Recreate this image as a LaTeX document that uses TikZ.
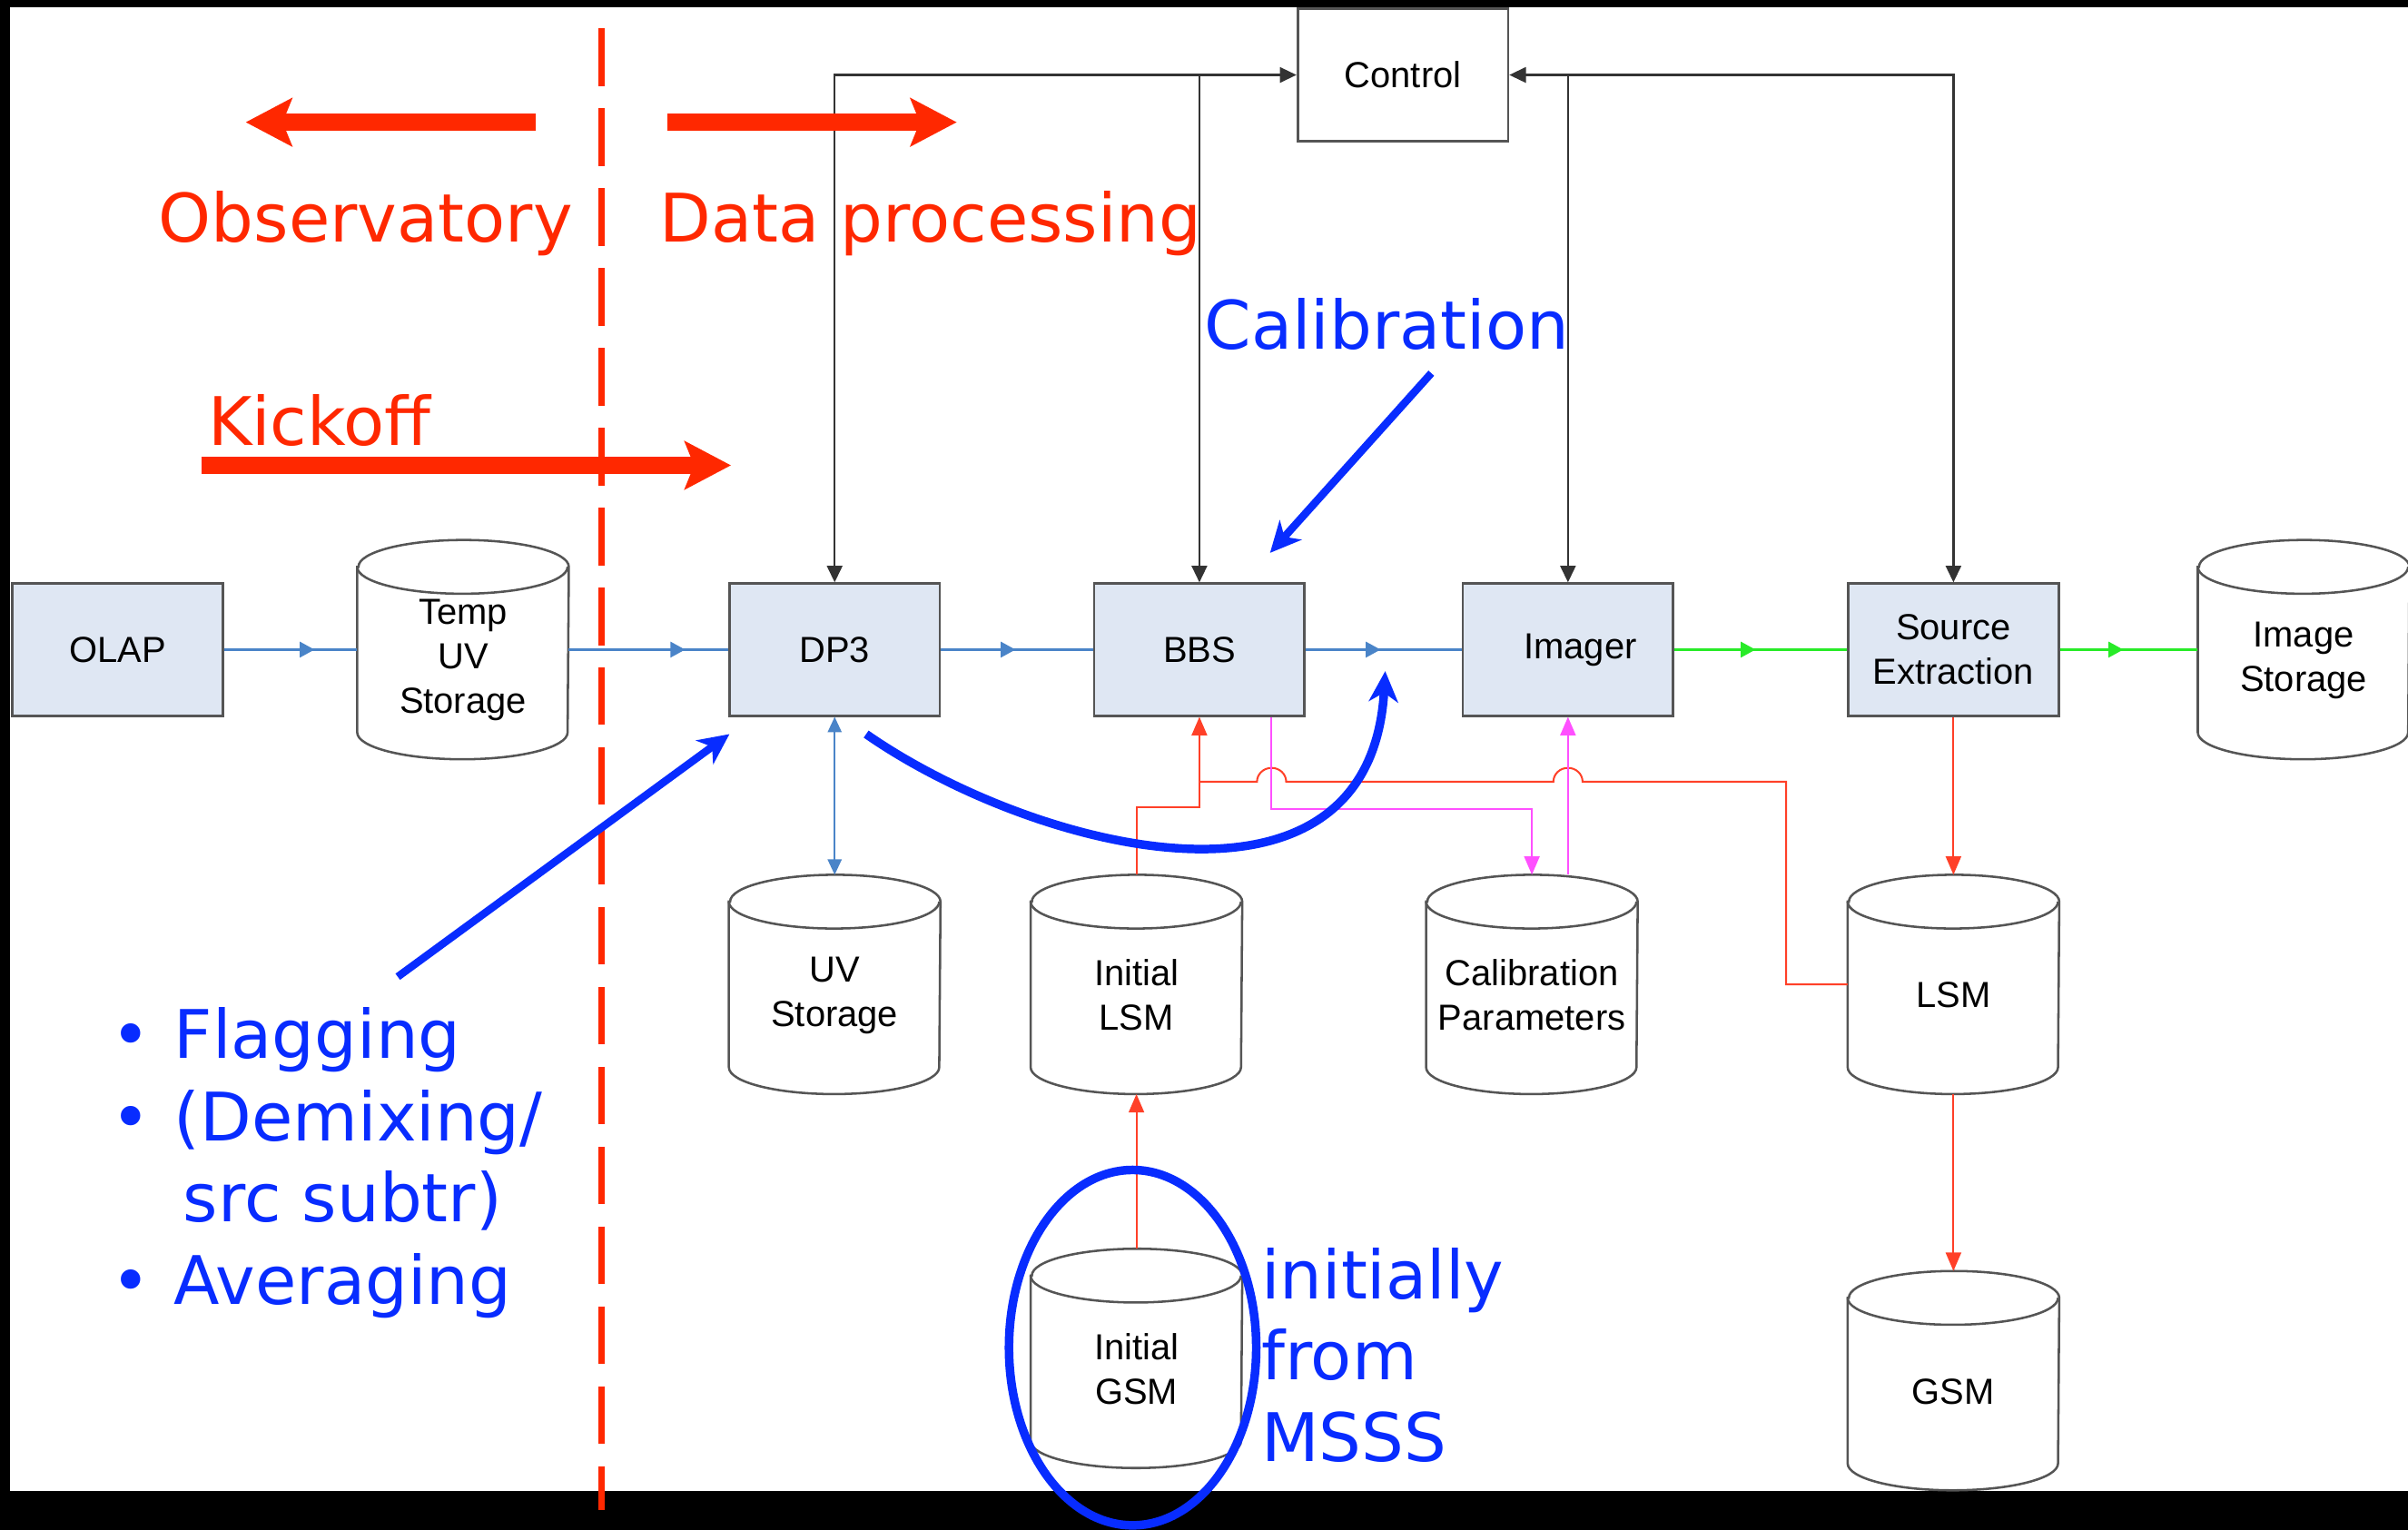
\documentclass[tikz,border=0pt]{standalone}
\usepackage{fontspec}
\setmainfont{Liberation Sans}
\newfontfamily\notefont{DejaVu Sans}
\usetikzlibrary{arrows.meta,decorations.markings}

\definecolor{procfill}{RGB}{223,231,243}
\definecolor{boxedge}{RGB}{85,85,85}
\definecolor{flowblue}{RGB}{74,132,200}
\definecolor{flowgreen}{RGB}{40,235,40}
\definecolor{linkred}{RGB}{255,64,40}
\definecolor{linkmag}{RGB}{255,80,255}
\definecolor{noteblue}{RGB}{8,44,255}
\definecolor{notered}{RGB}{255,40,0}

\newcommand\boxfont{\fontsize{11.8pt}{14.5pt}\selectfont}
\newcommand\notesize{\notefont\fontsize{21.8pt}{26.5pt}\selectfont}

\tikzset{
  proc/.style={draw=boxedge, fill=procfill, line width=0.8pt,
    minimum width=68.5pt, minimum height=43pt, inner sep=0pt,
    align=center, font=\boxfont},
  ctrlbox/.style={proc, fill=white},
  dbnode/.style={minimum width=68.5pt, minimum height=71pt, inner sep=0pt},
  dbline/.style={draw=boxedge, line width=0.75pt, fill=white},
  dbtext/.style={align=center, font=\boxfont, inner sep=0pt},
  midarrow/.style={postaction={decorate, decoration={markings,
    mark=at position #1 with {\arrow{Triangle[length=4.8pt,width=5pt]}}}}},
  flow/.style={color=flowblue, line width=0.8pt, midarrow=#1},
  flow/.default=0.5,
  gflow/.style={color=flowgreen, line width=0.8pt, midarrow=#1},
  gflow/.default=0.5,
  ctrl/.style={color=black!80, line width=0.7pt,
    >={Triangle[length=5.4pt,width=5pt]}},
  redlink/.style={color=linkred, line width=0.6pt,
    >={Triangle[length=6pt,width=5pt]}},
  maglink/.style={color=linkmag, line width=0.6pt,
    >={Triangle[length=6pt,width=5pt]}},
  bluelink/.style={color=flowblue, line width=0.6pt,
    >={Triangle[length=5pt,width=4.5pt]}},
  bigred/.style={draw=notered, line width=5.45pt,
    -{Stealth[length=15pt,width=15.5pt,inset=3pt]}},
  notearrow/.style={draw=noteblue, line width=2.5pt,
    -{Stealth[length=10pt,width=9.5pt,inset=3pt]}},
  redtext/.style={text=notered, font=\notesize, inner sep=0pt, anchor=base west},
  bluetext/.style={text=noteblue, font=\notesize, inner sep=0pt, anchor=base west},
  bullet/.style={text=noteblue, font=\notesize, inner sep=0pt, anchor=base},
}

% storage cylinder around a named node
\newcommand\dbcyl[3]{%
  \node[dbnode] (#1) at (#2) {};
  \filldraw[dbline] ([yshift=-8.75pt]#1.north west)
    -- ([yshift=8.75pt]#1.south west)
    arc[start angle=180, end angle=360, x radius=34.25pt, y radius=8.75pt]
    -- ([yshift=-8.75pt]#1.north east)
    arc[start angle=0, end angle=180, x radius=34.25pt, y radius=8.75pt]
    -- cycle;
  \draw[dbline, fill=none] ([yshift=-8.75pt]#1.north west)
    arc[start angle=180, end angle=360, x radius=34.25pt, y radius=8.75pt];
  \node[dbtext] (#1-t) at ([yshift=-3.5pt]#1.center) {#3};
}

\begin{document}
\begin{tikzpicture}[x=0.5pt, y=-0.5pt]
  \useasboundingbox (0,0) rectangle (1568,996);
  \fill[white] (0,0) rectangle (1568,996);
  % frame bands
  \fill[black] (0,0) rectangle (1568,4.8);
  \fill[black] (0,0) rectangle (6.4,996);
  \fill[black] (0,971) rectangle (1568,996);

  % process blocks
  \node[ctrlbox] (control) at (913.5,48.8) {Control};
  \node[proc] (olap)   at (76.5,423) {OLAP};
  \node[proc] (dp3)    at (543.5,423) {DP3};
  \node[proc] (bbs)    at (781,423) {BBS};
  \node[proc] (imager) at (1021,423) {\hspace*{8pt}Imager};
  \node[proc] (srcext) at (1272,423) {Source\\Extraction};

  % storage
  \dbcyl{tuv}{301.5,423}{Temp\\UV\\Storage}
  \dbcyl{imgst}{1500,423}{Image\\Storage}
  \dbcyl{uvst}{543.5,641}{UV\\Storage}
  \dbcyl{ilsm}{740,641}{Initial\\LSM}
  \dbcyl{calp}{997.5,641}{Calibration\\Parameters}
  \dbcyl{lsm}{1272,641}{LSM}
  \dbcyl{igsm}{740,884.5}{Initial\\GSM}
  \dbcyl{gsm}{1272,899}{GSM}

  % data flow
  \draw[flow=0.68] (olap.east) -- (tuv.west);
  \draw[flow=0.73] (tuv.east) -- (dp3.west);
  \draw[flow=0.49] (dp3.east) -- (bbs.west);
  \draw[flow=0.48] (bbs.east) -- (imager.west);
  \draw[gflow=0.47] (imager.east) -- (srcext.west);
  \draw[gflow=0.46] (srcext.east) -- (imgst.west);
  \draw[bluelink, <->] (dp3.south) -- (uvst.north);

  % control links
  \draw[ctrl, <->] (dp3.north) |- (control.west);
  \draw[ctrl, ->] (control.west -| bbs.north) -- (bbs.north);
  \draw[ctrl, ->] (control.east -| imager.north) -- (imager.north);
  \draw[ctrl, <->] (srcext.north) |- (control.east);

  % sky model links
  \draw[redlink, ->] (igsm.north) -- (ilsm.south);
  \draw[redlink, ->] (ilsm.north) -- ++(0,-44) -| (bbs.south);
  \draw[redlink, ->] (srcext.south) -- (lsm.north);
  \draw[redlink, ->] (lsm.south) -- (gsm.north);
  \draw[redlink] (lsm.west) -- ++(-40,0) -- ++(0,-132) coordinate (bus)
    -- ([xshift=4.75pt]imager.south |- bus)
    arc[start angle=0, end angle=180, x radius=4.75pt, y radius=4.5pt]
    -- ([xshift=28.25pt]bbs.south |- bus)
    arc[start angle=0, end angle=180, x radius=4.75pt, y radius=4.5pt]
    -- (bbs.south |- bus);

  % calibration parameter links
  \draw[maglink, ->] ([xshift=23.5pt]bbs.south) -- ++(0,60) -| (calp.north);
  \draw[maglink, ->] (imager.south |- calp.north) -- (imager.south);

  % domain split
  \draw[notered, line width=2.1pt, dash pattern=on 18.75pt off 7.25pt]
    (391.5,18.6) -- (391.5,983);

  \coordinate (obs-tail) at (349,79.6);
  \coordinate (obs-tip) at (160,79.6);
  \coordinate (proc-tail) at (434.6,79.6);
  \coordinate (proc-tip) at (623,79.6);
  \coordinate (kick-tail) at (131,303);
  \coordinate (kick-tip) at (476,303);
  \draw[bigred] (obs-tail) -- (obs-tip);
  \draw[bigred] (proc-tail) -- (proc-tip);
  \draw[bigred] (kick-tail) -- (kick-tip);

  \node[redtext] (obs-text) at (103,157.7) {Observatory};
  \node[redtext] (proc-text) at (429,157.7) {Data processing};
  \node[redtext] (kick-text) at (135,290) {Kickoff};

  % annotations
  \node[bluetext] (calib-text) at (784,227.4) {Calibration};
  \coordinate (calib-tail) at (932,243);
  \coordinate (calib-tip) at (827,360);
  \draw[notearrow] (calib-tail) -- (calib-tip);

  \coordinate (steps-tail) at (259,636);
  \coordinate (steps-tip) at (475,478);
  \draw[notearrow] (steps-tail) -- (steps-tip);

  \coordinate (loop-start) at (564,478);
  \coordinate (loop-end) at (902,437);
  \draw[notearrow, line width=2.8pt] (loop-start)
    .. controls (670,552) and (892,612) .. (loop-end);

  \node[bullet] (b1) at (85.5,689) {•};
  \node[bluetext] (step1) at (113,689) {Flagging};
  \node[bullet] (b2) at (85.5,743) {•};
  \node[bluetext] (step2) at (113,743) {(Demixing/};
  \node[bluetext] (step2b) at (119,795.5) {src subtr)};
  \node[bullet] (b3) at (85.5,849.6) {•};
  \node[bluetext] (step3) at (113,849.6) {Averaging};

  \draw[noteblue, line width=2.8pt] (737.5,877.5) ellipse [x radius=40.25pt, y radius=57.85pt];
  \node[bluetext] (msss1) at (821,845.5) {initially};
  \node[bluetext] (msss2) at (821,898.6) {from};
  \node[bluetext] (msss3) at (821,951.5) {MSSS};
\end{tikzpicture}
\end{document}
